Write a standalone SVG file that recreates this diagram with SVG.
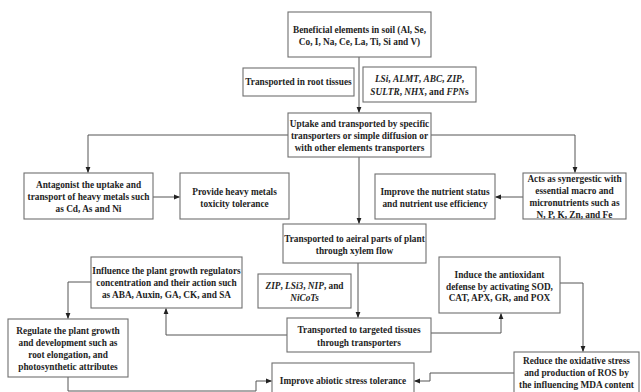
<svg xmlns="http://www.w3.org/2000/svg" width="641" height="392" viewBox="0 0 641 392">
<defs>
<marker id="ah" markerUnits="userSpaceOnUse" markerWidth="6" markerHeight="6" viewBox="0 0 6 6" refX="5.5" refY="3" orient="auto">
<path d="M0,0.6 L6,3 L0,5.4 Z" fill="#222"/>
</marker>
</defs>
<style>
rect{fill:#fff;stroke:#6f6f6f;stroke-width:1.1}
text{font-family:"Liberation Serif","Times New Roman",serif;font-weight:bold;font-size:9.3px;fill:#1e1e1e;text-anchor:middle}
.i{font-style:italic}
#connectors path{fill:none;stroke:#555;stroke-width:1}
</style>
<rect x="0" y="0" width="641" height="392" style="fill:#fff;stroke:none"/>
<g id="connectors">
<path d="M359,57 V112.5" marker-end="url(#ah)"/>
<path d="M288,135 H88 V172.5" marker-end="url(#ah)"/>
<path d="M431,135 H575 V172.5" marker-end="url(#ah)"/>
<path d="M153,197 H179.5" marker-end="url(#ah)"/>
<path d="M523,197 H495.5" marker-end="url(#ah)"/>
<path d="M359,157 V223.5" marker-end="url(#ah)"/>
<path d="M358,263 V317.5" marker-end="url(#ah)"/>
<path d="M287,335 H166 V308.5" marker-end="url(#ah)"/>
<path d="M91,282 H68 V318.5" marker-end="url(#ah)"/>
<path d="M68,377 V391 H256 V381 H271.5" marker-end="url(#ah)"/>
<path d="M431,333 H501 V313.5" marker-end="url(#ah)"/>
<path d="M560,283 H583 V351.5" marker-end="url(#ah)"/>
<path d="M514,373 H430 V381 H414.5" marker-end="url(#ah)"/>
</g>
<g id="n1"><rect x="288" y="12" width="143" height="45"/>
<text x="359.5" y="32.5">Beneficial elements in soil (Al, Se,</text>
<text x="359.5" y="44.5">Co, I, Na, Ce, La, Ti, Si and V)</text></g>
<g id="n2"><rect x="243" y="68" width="111" height="28"/>
<text x="298.5" y="84.5">Transported in root tissues</text></g>
<g id="n3"><rect x="363" y="67" width="113" height="35"/>
<text x="419.5" y="82"><tspan class="i">LSi</tspan>, <tspan class="i">ALMT</tspan>, <tspan class="i">ABC</tspan>, <tspan class="i">ZIP</tspan>,</text>
<text x="419.5" y="95"><tspan class="i">SULTR</tspan>, <tspan class="i">NHX</tspan>, and <tspan class="i">FPN</tspan>s</text></g>
<g id="n4"><rect x="288" y="113" width="143" height="44"/>
<text x="359.5" y="126.5">Uptake and transported by specific</text>
<text x="359.5" y="138.5">transporters or simple diffusion or</text>
<text x="359.5" y="150.5">with other elements transporters</text></g>
<g id="n5"><rect x="24" y="173" width="129" height="46"/>
<text x="88.5" y="188">Antagonist the uptake and</text>
<text x="88.5" y="200">transport of heavy metals such</text>
<text x="88.5" y="212">as Cd, As and Ni</text></g>
<g id="n6"><rect x="180" y="173" width="109" height="46"/>
<text x="234.5" y="195">Provide heavy metals</text>
<text x="234.5" y="207">toxicity tolerance</text></g>
<g id="n7"><rect x="375" y="174" width="120" height="45"/>
<text x="435" y="195">Improve the nutrient status</text>
<text x="435" y="207">and nutrient use efficiency</text></g>
<g id="n8"><rect x="523" y="173" width="103" height="46"/>
<text x="574.5" y="182">Acts as synergestic with</text>
<text x="574.5" y="194">essential macro and</text>
<text x="574.5" y="206">micronutrients such as</text>
<text x="574.5" y="217.5">N, P, K, Zn, and Fe</text></g>
<g id="n9"><rect x="283" y="224" width="143" height="39"/>
<text x="354.5" y="242">Transported to aeiral parts of plant</text>
<text x="354.5" y="254">through xylem flow</text></g>
<g id="n10"><rect x="258" y="274" width="93" height="34"/>
<text x="304.5" y="289"><tspan class="i">ZIP</tspan>, <tspan class="i">LSi3</tspan>, <tspan class="i">NIP</tspan>, and</text>
<text x="304.5" y="301" class="i">NiCoTs</text></g>
<g id="n11"><rect x="287" y="318" width="144" height="34"/>
<text x="359" y="333">Transported to targeted tissues</text>
<text x="359" y="346">through transporters</text></g>
<g id="n12"><rect x="91" y="257" width="151" height="51"/>
<text x="166.5" y="274">Influence the plant growth regulators</text>
<text x="166.5" y="286">concentration and their action such</text>
<text x="166.5" y="298">as ABA, Auxin, GA, CK, and SA</text></g>
<g id="n13"><rect x="8" y="319" width="120" height="58"/>
<text x="68" y="334">Regulate the plant growth</text>
<text x="68" y="346">and development such as</text>
<text x="68" y="358">root elongation, and</text>
<text x="68" y="370">photosynthetic attributes</text></g>
<g id="n14"><rect x="272" y="363" width="142" height="36"/>
<text x="343" y="384">Improve abiotic stress tolerance</text></g>
<g id="n15"><rect x="439" y="257" width="121" height="56"/>
<text x="499.5" y="278">Induce the antioxidant</text>
<text x="499.5" y="289.5">defense by activating SOD,</text>
<text x="499.5" y="301">CAT, APX, GR, and POX</text></g>
<g id="n16"><rect x="514" y="352" width="125" height="46"/>
<text x="576.5" y="364">Reduce the oxidative stress</text>
<text x="576.5" y="376">and production of ROS by</text>
<text x="576.5" y="388">the influencing MDA content</text></g>
</svg>
